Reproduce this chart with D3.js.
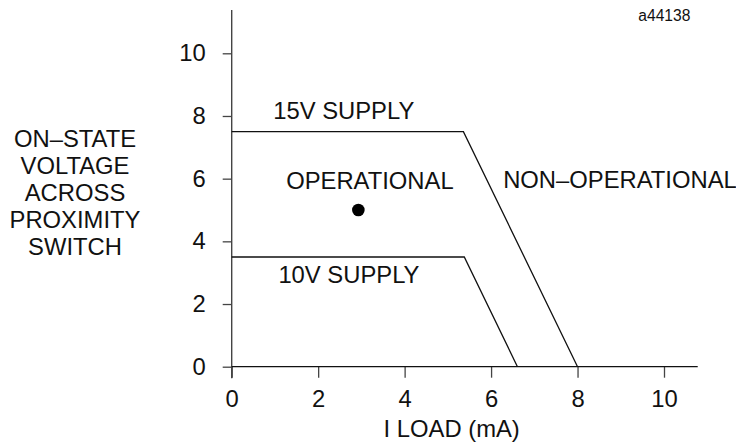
<!DOCTYPE html>
<html>
<head>
<meta charset="utf-8">
<script src="https://cdn.jsdelivr.net/npm/d3@7"></script>
<style>
  body { margin: 0; background: #fff; }
  svg { display: block; font-family: "Liberation Sans", Arial, sans-serif; }
</style>
</head>
<body>
<svg id="chart" width="736" height="444"></svg>
<script>
// data
const xTicks = [0, 2, 4, 6, 8, 10];
const yTicks = [0, 2, 4, 6, 8, 10];
const supply15 = [[0, 7.5], [5.36, 7.5], [8.0, 0]];
const supply10 = [[0, 3.5], [5.38, 3.5], [6.61, 0]];
const point = [2.93, 5.0];
const yTitle = ["ON\u2013STATE", "VOLTAGE", "ACROSS", "PROXIMITY", "SWITCH"];
const xTitle = "I LOAD (mA)";
const labels = [
  { text: "15V SUPPLY", x: 0.96, y: 7.89 },
  { text: "10V SUPPLY", x: 1.08, y: 2.66 },
  { text: "OPERATIONAL", x: 1.26, y: 5.67 },
  { text: "NON\u2013OPERATIONAL", x: 6.28, y: 5.7 }
];
const figId = "a44138";

const svg = d3.select("#chart");

const x = d3.scaleLinear().domain([0, 10]).range([231.7, 664]);
const y = d3.scaleLinear().domain([0, 10]).range([366.7, 53.3]);

const xMax = 10.78, yMax = 11.38;
const fs = 23.8;

// y axis
const gy = svg.append("g")
  .attr("transform", `translate(${x(0)},0)`)
  .call(d3.axisLeft(y).tickValues(yTicks).tickSize(9).tickPadding(17).tickSizeOuter(0));
gy.select(".domain").remove();
gy.selectAll(".tick line").attr("stroke", "#444").attr("stroke-width", 1.3);
gy.selectAll(".tick text")
  .attr("font-size", fs)
  .attr("font-family", "Liberation Sans, Arial, sans-serif")
  .attr("fill", "#111");

svg.append("line")
  .attr("x1", x(0)).attr("x2", x(0))
  .attr("y1", y(yMax)).attr("y2", y(0) + 11.5)
  .attr("stroke", "#444").attr("stroke-width", 1.4);

// x axis
const gx = svg.append("g")
  .attr("transform", `translate(0,${y(0)})`)
  .call(d3.axisBottom(x).tickValues(xTicks).tickSize(11).tickPadding(12).tickSizeOuter(0));
gx.select(".domain").remove();
gx.selectAll(".tick line").attr("stroke", "#444").attr("stroke-width", 1.3);
gx.selectAll(".tick text")
  .attr("font-size", fs)
  .attr("font-family", "Liberation Sans, Arial, sans-serif")
  .attr("fill", "#111");

svg.append("line")
  .attr("x1", x(0)).attr("x2", x(xMax))
  .attr("y1", y(0)).attr("y2", y(0))
  .attr("stroke", "#111").attr("stroke-width", 1.3);

// supply curves
const line = d3.line().x(d => x(d[0])).y(d => y(d[1]));
svg.selectAll(".curve")
  .data([supply15, supply10])
  .join("path")
  .attr("class", "curve")
  .attr("d", line)
  .attr("fill", "none")
  .attr("stroke", "#111")
  .attr("stroke-width", 1.3);

// operating point
svg.append("circle")
  .attr("cx", x(point[0]))
  .attr("cy", y(point[1]))
  .attr("r", 6.3)
  .attr("fill", "#000");

// region / curve labels
svg.selectAll(".lbl")
  .data(labels)
  .join("text")
  .attr("class", "lbl")
  .attr("x", d => x(d.x))
  .attr("y", d => y(d.y))
  .attr("font-size", fs)
  .attr("fill", "#111")
  .text(d => d.text);

// axis titles
svg.append("g")
  .selectAll("text")
  .data(yTitle)
  .join("text")
  .attr("x", 75)
  .attr("y", (d, i) => 147.3 + i * 27)
  .attr("text-anchor", "middle")
  .attr("font-size", fs)
  .attr("fill", "#111")
  .text(d => d);

svg.append("text")
  .attr("x", 451.7)
  .attr("y", 437)
  .attr("text-anchor", "middle")
  .attr("font-size", fs)
  .attr("fill", "#111")
  .text(xTitle);

svg.append("text")
  .attr("x", 638.3)
  .attr("y", 20.7)
  .attr("font-size", 15.6)
  .attr("fill", "#111")
  .text(figId);
</script>
</body>
</html>
